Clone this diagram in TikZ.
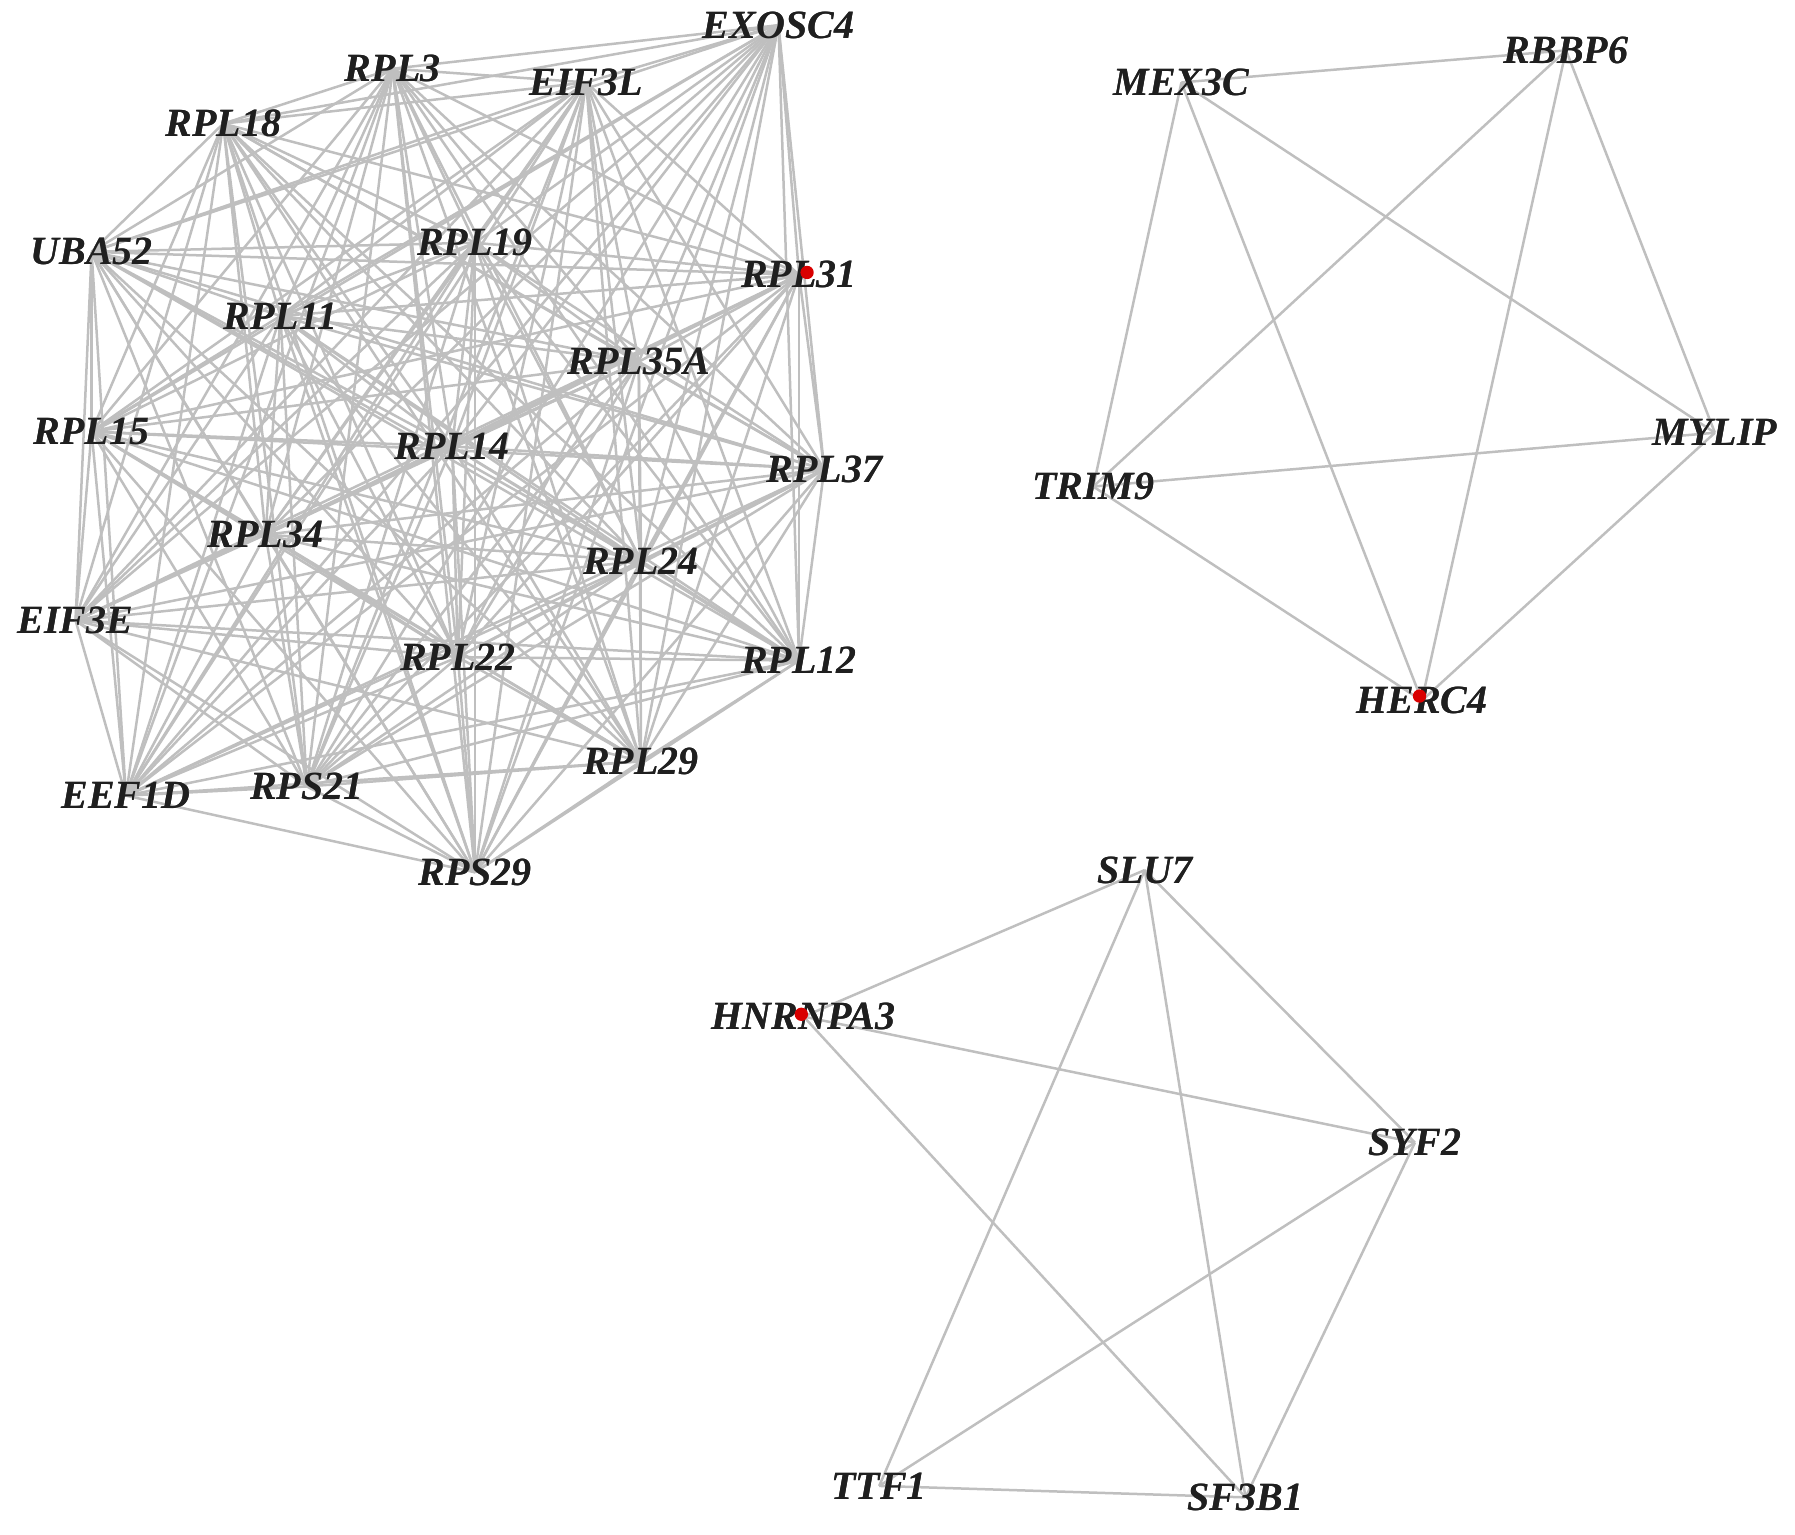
\documentclass[tikz,border=0pt]{standalone}
\usepackage{fontspec}
\setmainfont{Liberation Serif}
\begin{document}
\begin{tikzpicture}[x=0.34344pt,y=-0.34344pt,
  lbl/.style={inner sep=0pt,font=\fontsize{12}{14}\selectfont\bfseries\itshape,text=black!88},
  edge/.style={draw=black!25,line width=0.75pt},
  hub/.style={circle,fill=red!85!black,inner sep=0pt,minimum size=4pt}]
\useasboundingbox (0,0) rectangle (1568,1340);
% cluster 1
\node[lbl] (EXOSC4) at (680,22) {EXOSC4};
\node[lbl] (RPL3) at (343,60) {RPL3};
\node[lbl] (EIF3L) at (512,72) {EIF3L};
\node[lbl] (RPL18) at (195,108) {RPL18};
\node[lbl] (UBA52) at (80,220) {UBA52};
\node[lbl] (RPL19) at (415,212) {RPL19};
\node[lbl] (RPL31) at (698,240) {RPL31};
\node[lbl] (RPL11) at (245,276) {RPL11};
\node[lbl] (RPL35A) at (558,316) {RPL35A};
\node[lbl] (RPL15) at (80,377) {RPL15};
\node[lbl] (RPL14) at (395,390) {RPL14};
\node[lbl] (RPL37) at (720,410) {RPL37};
\node[lbl] (RPL34) at (232,467) {RPL34};
\node[lbl] (RPL24) at (560,490) {RPL24};
\node[lbl] (EIF3E) at (66,542) {EIF3E};
\node[lbl] (RPL22) at (400,574) {RPL22};
\node[lbl] (RPL12) at (698,577) {RPL12};
\node[lbl] (RPL29) at (560,665) {RPL29};
\node[lbl] (RPS21) at (268,687) {RPS21};
\node[lbl] (EEF1D) at (110,695) {EEF1D};
\node[lbl] (RPS29) at (415,762) {RPS29};
% cluster 2
\node[lbl] (MEX3C) at (1032,72) {MEX3C};
\node[lbl] (RBBP6) at (1368,44) {RBBP6};
\node[lbl] (MYLIP) at (1498,378) {MYLIP};
\node[lbl] (TRIM9) at (955,425) {TRIM9};
\node[lbl] (HERC4) at (1242,612) {HERC4};
% cluster 3
\node[lbl] (SLU7) at (1000,760) {SLU7};
\node[lbl] (HNRNPA3) at (702,888) {HNRNPA3};
\node[lbl] (SYF2) at (1236,998) {SYF2};
\node[lbl] (TTF1) at (768,1298) {TTF1};
\node[lbl] (SF3B1) at (1088,1308) {SF3B1};
% edges
\foreach \a [count=\i] in {EXOSC4,RPL3,EIF3L,RPL18,UBA52,RPL19,RPL31,RPL11,RPL35A,RPL15,RPL14,RPL37,RPL34,RPL24,EIF3E,RPL22,RPL12,RPL29,RPS21,EEF1D,RPS29}{
  \foreach \b [count=\j] in {EXOSC4,RPL3,EIF3L,RPL18,UBA52,RPL19,RPL31,RPL11,RPL35A,RPL15,RPL14,RPL37,RPL34,RPL24,EIF3E,RPL22,RPL12,RPL29,RPS21,EEF1D,RPS29}{
    \ifnum\j>\i \draw[edge] (\a.center) -- (\b.center);\fi
  }
}
\foreach \a [count=\i] in {MEX3C,RBBP6,MYLIP,TRIM9,HERC4}{
  \foreach \b [count=\j] in {MEX3C,RBBP6,MYLIP,TRIM9,HERC4}{
    \ifnum\j>\i \draw[edge] (\a.center) -- (\b.center);\fi
  }
}
\foreach \a/\b in {SLU7/HNRNPA3,SLU7/TTF1,SLU7/SF3B1,SLU7/SYF2,HNRNPA3/SYF2,HNRNPA3/SF3B1,SYF2/TTF1,SYF2/SF3B1,TTF1/SF3B1}
  \draw[edge] (\a.center) -- (\b.center);
% labels on top of the edges
\foreach \n in {EXOSC4,RPL3,EIF3L,RPL18,UBA52,RPL19,RPL31,RPL11,RPL35A,RPL15,RPL14,RPL37,RPL34,RPL24,EIF3E,RPL22,RPL12,RPL29,RPS21,EEF1D,RPS29,MEX3C,RBBP6,MYLIP,TRIM9,HERC4,SLU7,HNRNPA3,SYF2,TTF1,SF3B1}
  \node[lbl] at (\n.center) {\n};
% hub markers
\node[hub] (d1) at (705,238) {};
\node[hub] (d2) at (1240,608) {};
\node[hub] (d3) at (700,886) {};
\end{tikzpicture}
\end{document}
